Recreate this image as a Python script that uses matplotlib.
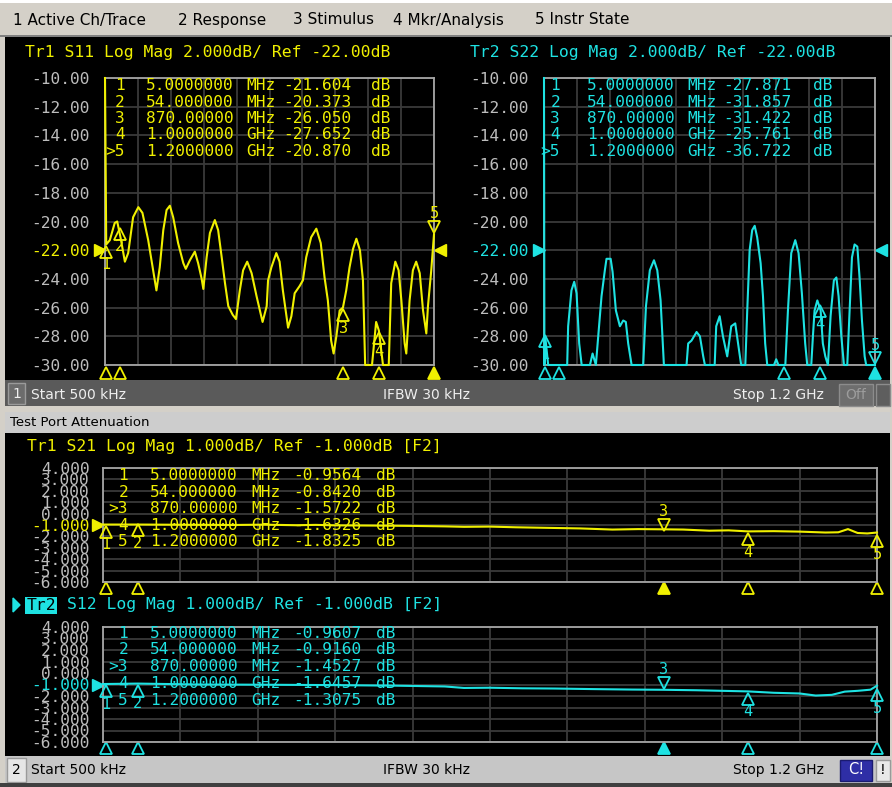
import numpy as np
import matplotlib
matplotlib.use('Agg')
import matplotlib.pyplot as plt
from matplotlib import transforms
from matplotlib.patches import Rectangle, Polygon

# ---- trace data (frequency in MHz, level in dB)
s11_freq = [0.5, 5, 18, 36, 45, 57, 73, 85, 103, 122, 137, 158, 176, 188, 200, 213, 225, 237,
            249, 267, 286, 295, 310, 328, 340, 353, 359, 371, 383, 401, 413, 426, 438, 450,
            466, 478, 492, 504, 519, 535, 553, 575, 590, 595, 607, 625, 637, 649, 668, 680,
            692, 710, 722, 734, 752, 771, 787, 801, 813, 825, 834, 844, 856, 868, 880, 892,
            905, 917, 930, 941, 949, 974, 989, 999, 1014, 1035, 1044, 1059, 1071, 1081, 1093,
            1099, 1111, 1123, 1135, 1148, 1160, 1172, 1178, 1190, 1196, 1200]
s11_db = [-10.0, -21.6, -21.3, -20.1, -20.0, -21.1, -22.8, -22.2, -19.7, -19.0, -19.4, -21.3,
          -23.4, -24.8, -23.2, -20.6, -19.2, -18.9, -19.7, -21.5, -22.9, -23.3, -22.7, -22.1,
          -22.9, -24.0, -24.7, -22.5, -20.8, -19.9, -20.6, -22.5, -24.3, -25.9, -26.5, -26.8,
          -24.8, -23.4, -22.8, -23.6, -25.2, -27.0, -25.9, -24.1, -23.2, -22.2, -22.8, -24.8,
          -27.4, -26.6, -25.0, -24.5, -24.1, -22.5, -21.1, -20.5, -21.5, -23.9, -25.5, -28.3,
          -29.2, -28.0, -26.2, -26.0, -24.8, -23.2, -21.9, -21.2, -22.0, -24.1, -30.0, -30.0,
          -27.0, -27.6, -30.0, -30.0, -24.3, -22.8, -23.4, -25.5, -28.5, -29.2, -25.5, -23.4,
          -22.8, -23.6, -26.2, -27.8, -25.9, -23.4, -21.9, -20.9]

s22_freq = [0.5, 2, 5, 15.6, 84.5, 88, 100, 110, 118.5, 128, 137, 167, 176.5, 188.5, 200, 209,
            221, 227, 242, 249, 261, 275.5, 287.5, 297, 305.6, 318, 360, 370, 384, 399, 411,
            423, 435, 517, 523, 535, 553.5, 565.5, 577.5, 583.6, 619, 624.6, 637, 649, 664.5,
            679, 693.5, 709, 715, 730, 737, 745.7, 755, 764, 773, 785.5, 794, 802, 809.5, 834,
            842, 850, 875, 884.5, 896.5, 911, 923, 935, 947, 954.5, 969, 975, 981, 991, 1003,
            1011, 1020, 1029.5, 1039, 1051, 1060, 1068, 1078, 1087.5, 1099.5, 1108, 1116.5,
            1126, 1136, 1144, 1152.75, 1162.5, 1168, 1200]
s22_db = [-10.0, -30.0, -28.0, -30.0, -30.0, -27.3, -24.8, -24.2, -25.0, -28.5, -30.0, -30.0,
          -29.2, -30.0, -27.3, -25.2, -23.4, -22.6, -22.6, -23.5, -26.2, -27.3, -26.9, -27.0,
          -28.5, -30.0, -30.0, -25.9, -23.4, -22.7, -23.4, -25.5, -30.0, -30.0, -28.5, -28.3,
          -27.7, -28.0, -29.4, -30.0, -30.0, -27.3, -26.6, -28.0, -29.4, -27.3, -27.1, -29.2,
          -30.0, -30.0, -26.2, -22.0, -20.6, -20.3, -21.1, -22.9, -25.2, -28.5, -30.0, -30.0,
          -29.6, -30.0, -30.0, -26.2, -22.2, -21.3, -22.2, -25.0, -28.5, -30.0, -30.0, -28.0,
          -26.2, -25.5, -26.2, -28.5, -29.4, -30.0, -26.6, -24.1, -23.9, -25.2, -28.0, -30.0,
          -30.0, -26.2, -22.5, -21.6, -21.75, -23.9, -26.9, -29.4, -30.0, -30.0]

s21_freq = [0.5, 54, 120, 200, 250, 300, 330, 360, 420, 480, 530, 560, 600, 640, 690, 740,
            790, 830, 870, 900, 940, 970, 1000, 1040, 1080, 1120, 1140, 1155, 1170, 1185, 1200]
s21_db = [-0.96, -0.96, -0.98, -1.0, -0.97, -1.02, -0.99, -1.03, -1.05, -1.08, -1.12, -1.16,
          -1.14, -1.2, -1.25, -1.3, -1.4, -1.36, -1.38, -1.4, -1.5, -1.47, -1.56, -1.54, -1.58,
          -1.66, -1.64, -1.36, -1.7, -1.74, -1.66]

s12_freq = [0.5, 54, 150, 250, 350, 450, 530, 560, 600, 650, 700, 760, 820, 870, 920, 960,
            1000, 1040, 1080, 1105, 1130, 1150, 1170, 1190, 1200]
s12_db = [-0.96, -0.92, -1.0, -1.02, -1.05, -1.1, -1.17, -1.3, -1.28, -1.33, -1.35, -1.4,
          -1.44, -1.46, -1.5, -1.55, -1.6, -1.72, -1.78, -1.96, -1.9, -1.62, -1.55, -1.45, -1.1]

# ---- marker tables
mkr_freq = [5, 54, 870, 1000, 1200]
mkr_freq_txt = ["5.0000000", "54.000000", "870.00000", "1.0000000", "1.2000000"]
mkr_unit = ["MHz", "MHz", "MHz", "GHz", "GHz"]
s11_mkr = [-21.604, -20.373, -26.050, -27.652, -20.870]
s22_mkr = [-27.871, -31.857, -31.422, -25.761, -36.722]
s21_mkr = [-0.9564, -0.8420, -1.5722, -1.6326, -1.8325]
s12_mkr = [-0.9607, -0.9160, -1.4527, -1.6457, -1.3075]

menu_items = ["1 Active Ch/Trace", "2 Response", "3 Stimulus", "4 Mkr/Analysis", "5 Instr State"]
menu_x = [13, 178, 293, 393, 535]

W, H = 892, 787
fig = plt.figure(figsize=(W / 100, H / 100), dpi=100)
fig.patch.set_facecolor('#d4d0c8')

YEL = '#f0f000'
CYN = '#1ee2e2'
GRID = '#3a3a3a'
FRAME = '#a6a6a6'
TICK = '#bdbdbd'
MONO = 'DejaVu Sans Mono'
SANS = 'DejaVu Sans'
F0, F1 = 0.5, 1200


def px_axes(x0, y0, x1, y1, z):
    return fig.add_axes([x0 / W, 1 - y1 / H, (x1 - x0) / W, (y1 - y0) / H], zorder=z)


bg = px_axes(0, 0, W, H, 0)
fg = px_axes(0, 0, W, H, 5)
for a in (bg, fg):
    a.set_xlim(0, W)
    a.set_ylim(H, 0)
    a.axis('off')
fg.patch.set_alpha(0)


def box(x0, y0, x1, y1, fc, ec='none', lw=0):
    bg.add_patch(Rectangle((x0, y0), x1 - x0, y1 - y0, facecolor=fc, edgecolor=ec, lw=lw))


# window pieces
box(0, 0, W, 3, '#ffffff')
box(0, 3, W, 35, '#d4d0c8')
box(0, 35, W, 37, '#808080')
for t, x in zip(menu_items, menu_x):
    bg.text(x, 20, t, family=SANS, fontsize=11, va='center', color='black')

box(5, 37, 890, 380, 'black')
box(5, 380, 890, 406, '#5a5a5a')
box(8, 383, 25, 404, '#6c6c6c', '#9a9a9a', 1)
bg.text(16.5, 394, "1", family=SANS, fontsize=10, color='#eeeeee', ha='center', va='center')
bg.text(31, 395, "Start 500 kHz", family=SANS, fontsize=10, color='#eeeeee', va='center')
bg.text(383, 395, "IFBW 30 kHz", family=SANS, fontsize=10, color='#eeeeee', va='center')
bg.text(733, 395, "Stop 1.2 GHz", family=SANS, fontsize=10, color='#eeeeee', va='center')
box(839, 384, 873, 406, '#6e6e6e', '#8c8c8c', 1)
bg.text(856, 395, "Off", family=SANS, fontsize=10, color='#9c9c9c', ha='center', va='center')
box(876, 384, 890, 406, '#5e5e5e', '#8c8c8c', 1)

box(5, 412, 890, 433, '#cdcdcd')
bg.text(10, 423, "Test Port Attenuation", family=SANS, fontsize=9.5, color='black', va='center')
box(5, 433, 890, 756, 'black')
box(5, 756, 890, 783, '#c6c6c6')
box(7, 758, 26, 782, '#e6e6e6', '#9a9a9a', 1)
bg.text(16.5, 770, "2", family=SANS, fontsize=10, color='black', ha='center', va='center')
bg.text(31, 770, "Start 500 kHz", family=SANS, fontsize=10, color='black', va='center')
bg.text(383, 770, "IFBW 30 kHz", family=SANS, fontsize=10, color='black', va='center')
bg.text(733, 770, "Stop 1.2 GHz", family=SANS, fontsize=10, color='black', va='center')
box(840, 760, 872, 781, '#2e2ea6', '#1a1a70', 1)
bg.text(856, 770, "C!", family=SANS, fontsize=10.5, color='white', ha='center', va='center')
box(876, 760, 890, 781, '#e8e8e8', '#9a9a9a', 1)
bg.text(883, 770, "!", family=SANS, fontsize=10, color='black', ha='center', va='center')
box(0, 783, W, H, '#404040')

# headers
fg.text(25, 53, "Tr1 S11 Log Mag 2.000dB/ Ref -22.00dB", color=YEL, family=MONO,
        fontsize=11.8, va='center')
fg.text(470, 53, "Tr2 S22 Log Mag 2.000dB/ Ref -22.00dB", color=CYN, family=MONO,
        fontsize=11.8, va='center')
fg.text(27, 447, "Tr1 S21 Log Mag 1.000dB/ Ref -1.000dB [F2]", color=YEL, family=MONO,
        fontsize=11.8, va='center')
fg.add_patch(Polygon([[13, 598], [20, 605], [13, 612]], closed=True, color=CYN))
fg.add_patch(Rectangle((25, 597), 32, 17, facecolor=CYN, edgecolor='none'))
fg.text(41, 605.5, "Tr2", color='black', family=MONO, fontsize=11.8, va='center', ha='center')
fg.text(67, 605, "S12 Log Mag 1.000dB/ Ref -1.000dB [F2]", color=CYN, family=MONO,
        fontsize=11.8, va='center')


def setup(ax, ylo, yhi, step, fmt, ref, color, pad, right_arrow):
    ax.set_facecolor('none')
    ax.set_xlim(F0, F1)
    ax.set_ylim(ylo, yhi)
    ax.set_xticks(np.linspace(F0, F1, 11))
    ax.set_xticklabels([])
    yt = np.arange(ylo, yhi + step / 2, step)
    ax.set_yticks(yt)
    ax.set_yticklabels([fmt % v for v in yt], family=MONO, fontsize=11.6, color=TICK)
    for lab, v in zip(ax.get_yticklabels(), yt):
        if abs(v - ref) < 1e-9:
            lab.set_color(color)
    ax.tick_params(length=0, pad=pad)
    ax.grid(True, color=GRID, lw=1.3)
    for s in ax.spines.values():
        s.set_color(FRAME)
        s.set_linewidth(1.3)
    # reference level arrows
    ax.plot([F0], [ref], marker='>', ms=8, color=color, clip_on=False,
            transform=transforms.offset_copy(ax.transData, fig=fig, x=-5, y=0, units='dots'))
    if right_arrow:
        ax.plot([F1], [ref], marker='<', ms=8, color=color, clip_on=False,
                transform=transforms.offset_copy(ax.transData, fig=fig, x=6, y=0, units='dots'))


def markers(ax, vals, sides, active, color, ylo, yhi, dy_axis):
    for i, (f, v, side) in enumerate(zip(mkr_freq, vals, sides)):
        # indicator below the x axis
        fc = color if i == active else 'none'
        ax.plot([f], [ylo], marker='^', ms=8, mec=color, mfc=fc, mew=1.3, clip_on=False,
                transform=transforms.offset_copy(ax.transData, fig=fig, x=0, y=dy_axis,
                                                 units='dots'))
        if v < ylo and i != active:
            continue
        vy = float(np.clip(v, ylo, yhi))
        sgn = -1 if side == 'below' else 1
        ax.plot([f], [vy], marker='^' if sgn < 0 else 'v', ms=9, mec=color, mfc='none',
                mew=1.3, clip_on=False, zorder=4,
                transform=transforms.offset_copy(ax.transData, fig=fig, x=0, y=7 * sgn,
                                                 units='dots'))
        ax.text(f, vy, str(i + 1), color=color, family=MONO, fontsize=11, ha='center',
                va='center', clip_on=False, zorder=4,
                transform=transforms.offset_copy(ax.transData, fig=fig, x=0, y=20 * sgn,
                                                 units='dots'))


def table(x_idx, x_freq, y0, dy, vals, fmt, active, color, offs):
    for i, v in enumerate(vals):
        y = y0 + dy * i
        idx = (">" if i == active else "") + str(i + 1)
        fg.text(x_idx, y, idx, color=color, family=MONO, fontsize=11.6, ha='right', va='center')
        fg.text(x_freq, y, mkr_freq_txt[i], color=color, family=MONO, fontsize=11.6, va='center')
        fg.text(x_freq + offs[0], y, mkr_unit[i], color=color, family=MONO, fontsize=11.6,
                va='center')
        fg.text(x_freq + offs[1], y, fmt % v, color=color, family=MONO, fontsize=11.6,
                va='center')
        fg.text(x_freq + offs[2], y, "dB", color=color, family=MONO, fontsize=11.6, va='center')


# ---- S11 (top left)
ax1 = px_axes(105, 78, 434, 365, 2)
setup(ax1, -30, -10, 2, '%.2f', -22, YEL, 10.8, True)
ax1.plot(s11_freq, s11_db, color=YEL, lw=1.5, clip_on=False, zorder=3)
markers(ax1, s11_mkr, ['below'] * 4 + ['above'], 4, YEL, -30, -10, -8)
table(125, 146, 86, 16.3, s11_mkr, '%.3f', 4, YEL, (100, 137, 225))

# ---- S22 (top right)
ax2 = px_axes(544, 78, 875, 365, 2)
setup(ax2, -30, -10, 2, '%.2f', -22, CYN, 10.8, True)
ax2.plot(s22_freq, s22_db, color=CYN, lw=1.5, clip_on=False, zorder=3)
markers(ax2, s22_mkr, ['below'] * 4 + ['above'], 4, CYN, -30, -10, -8)
table(560, 587, 86, 16.3, s22_mkr, '%.3f', 4, CYN, (100, 136, 226))

# ---- S21 (bottom upper)
ax3 = px_axes(103, 468, 877, 582, 2)
setup(ax3, -6, 4, 1, '%.3f', -1, YEL, 9.4, False)
ax3.plot(s21_freq, s21_db, color=YEL, lw=1.5, clip_on=False, zorder=3)
markers(ax3, s21_mkr, ['below', 'below', 'above', 'below', 'below'], 2, YEL, -6, 4, -6)
table(128, 150, 476, 16.4, s21_mkr, '%.4f', 2, YEL, (101, 143, 226))

# ---- S12 (bottom lower)
ax4 = px_axes(103, 627, 877, 742, 2)
setup(ax4, -6, 4, 1, '%.3f', -1, CYN, 9.4, False)
ax4.plot(s12_freq, s12_db, color=CYN, lw=1.5, clip_on=False, zorder=3)
markers(ax4, s12_mkr, ['below', 'below', 'above', 'below', 'below'], 2, CYN, -6, 4, -6)
table(128, 150, 633, 16.8, s12_mkr, '%.4f', 2, CYN, (101, 143, 226))

fig.savefig('out.png', dpi=100, facecolor=fig.get_facecolor())
